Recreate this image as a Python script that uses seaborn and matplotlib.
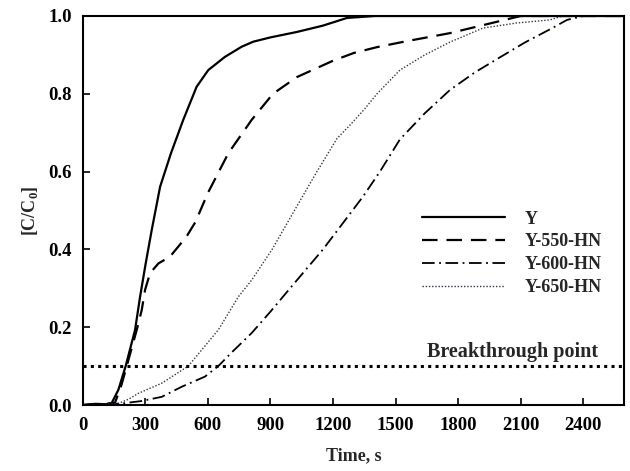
import numpy as np
import pandas as pd
import matplotlib
matplotlib.use("Agg")
import matplotlib.pyplot as plt
import seaborn as sns

# ---- data ----
t_Y = [0, 60, 110, 139, 171, 206, 251, 275, 302, 331, 371, 423, 482, 546, 602, 682, 762, 818, 900, 1027, 1150, 1267, 1400, 2595]
v_Y = [0, 0.003, 0.002, 0.005, 0.039, 0.1, 0.193, 0.278, 0.364, 0.45, 0.561, 0.647, 0.733, 0.818, 0.861, 0.895, 0.921, 0.934, 0.945, 0.959, 0.975, 0.995, 1.0, 1.0]

t_550 = [0, 60, 120, 155, 185, 211, 259, 283, 299, 323, 363, 418, 458, 500, 540, 600, 698, 810, 912, 1027, 1200, 1300, 1411, 1550, 1761, 2000, 2100, 2595]
v_550 = [0, 0.002, 0.003, 0.006, 0.05, 0.1, 0.193, 0.244, 0.296, 0.339, 0.364, 0.381, 0.407, 0.435, 0.47, 0.545, 0.647, 0.733, 0.80, 0.843, 0.885, 0.905, 0.92, 0.935, 0.956, 0.987, 1.0, 1.0]

t_600 = [0, 120, 187, 280, 379, 475, 586, 650, 714, 810, 900, 994, 1152, 1344, 1425, 1521, 1640, 1761, 1880, 2001, 2120, 2241, 2322, 2400, 2595]
v_600 = [0, 0.002, 0.004, 0.01, 0.021, 0.047, 0.073, 0.1, 0.135, 0.185, 0.24, 0.3, 0.4, 0.536, 0.6, 0.683, 0.75, 0.81, 0.855, 0.894, 0.932, 0.966, 0.99, 1.0, 1.0]

t_650 = [0, 120, 171, 220, 267, 379, 506, 650, 746, 810, 908, 1015, 1123, 1219, 1282, 1350, 1411, 1521, 1640, 1761, 1919, 2080, 2240, 2300, 2595]
v_650 = [0, 0.002, 0.004, 0.015, 0.03, 0.056, 0.1, 0.193, 0.278, 0.321, 0.4, 0.5, 0.6, 0.685, 0.72, 0.76, 0.8, 0.861, 0.9, 0.933, 0.969, 0.982, 0.99, 1.0, 1.0]

labels = ["Y", "Y-550-HN", "Y-600-HN", "Y-650-HN"]
breakthrough = 0.1
x_ticks = [0, 300, 600, 900, 1200, 1500, 1800, 2100, 2400]
y_ticks = [0.0, 0.2, 0.4, 0.6, 0.8, 1.0]

frames = []
for lab, t, v in zip(labels, [t_Y, t_550, t_600, t_650], [v_Y, v_550, v_600, v_650]):
    frames.append(pd.DataFrame({"time": t, "cc0": v, "sample": lab}))
df = pd.concat(frames, ignore_index=True)

sns.set_theme(style="ticks")
plt.rcParams["font.family"] = ["Liberation Serif", "DejaVu Serif"]
plt.rcParams["font.weight"] = "bold"
plt.rcParams["mathtext.fontset"] = "custom"
plt.rcParams["mathtext.bf"] = "Liberation Serif:bold"
plt.rcParams["mathtext.rm"] = "Liberation Serif"

fig = plt.figure(figsize=(6.3, 4.71), dpi=100)
ax = fig.add_axes([82.7 / 630, 66 / 471, 541.3 / 630, 389 / 471])

styles = {
    "Y": dict(linestyle="-", linewidth=1.6, color="black"),
    "Y-550-HN": dict(linestyle=(0, (7, 4)), linewidth=1.6, color="black"),
    "Y-600-HN": dict(linestyle=(0, (7, 2.5, 1, 2.5)), linewidth=1.3, color="black"),
    "Y-650-HN": dict(linestyle=(0, (1, 1.3)), linewidth=1.0, color="#333344"),
}
for lab in labels:
    sns.lineplot(data=df[df["sample"] == lab], x="time", y="cc0", ax=ax,
                 label=lab, estimator=None, sort=True, **styles[lab])

ax.axhline(breakthrough, color="black", linestyle=(0, (1, 1.4)), linewidth=2.2)
ax.text(0.952, 0.123, "Breakthrough point", transform=ax.transAxes,
        ha="right", va="baseline", fontsize=14.5, fontweight="bold")

ax.set_xlim(0, 2595)
ax.set_ylim(0, 1.0)
ax.set_xticks(x_ticks)
ax.set_yticks(y_ticks)
ax.set_yticklabels([f"{y:.1f}" for y in y_ticks])
ax.tick_params(direction="in", length=5, width=1.2, labelsize=13.5, colors="black")
for lbl in ax.get_xticklabels() + ax.get_yticklabels():
    lbl.set_fontweight("bold")
ax.tick_params(axis="x", pad=9)
ax.tick_params(axis="y", pad=8)
for sp in ax.spines.values():
    sp.set_linewidth(1.5)
    sp.set_color("black")

ax.set_xlabel("Time, s", fontsize=13, fontweight="bold", labelpad=9)
ax.set_ylabel(r"[C/C$_\mathbf{0}$]", fontsize=13, fontweight="bold", labelpad=6)

leg = ax.legend(loc="upper left", bbox_to_anchor=(0.627, 0.5), frameon=False,
                fontsize=13, handlelength=4.6, handletextpad=1.1,
                labelspacing=0.32, borderpad=0, borderaxespad=0)
for txt in leg.get_texts():
    txt.set_fontweight("bold")

fig.savefig("out.png", dpi=100)
